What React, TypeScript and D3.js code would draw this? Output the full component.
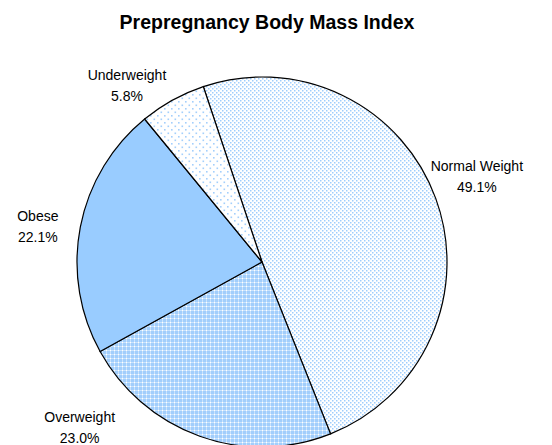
//@ts-nocheck
import * as d3 from "d3";
import React, { useEffect, useRef } from "react";

const categories = ["Normal Weight", "Overweight", "Obese", "Underweight"];
const shares = [49.1, 23.0, 22.1, 5.8];
const shareLabels = ["49.1%", "23.0%", "22.1%", "5.8%"];

// layout nudges for labels (Excel best-fit placement)
const labelNudge = {
  "Normal Weight": [13, -12],
  Overweight: [-110, -37],
  Obese: [-13, 4],
  Underweight: [-31, 11],
};

const fills = {
  "Normal Weight": "url(#dotsDense)",
  Overweight: "url(#gridDots)",
  Obese: "#99ccff",
  Underweight: "url(#dotsSparse)",
};

const chart = () => {
  const width = 552;
  const height = 445;
  const cx = 262;
  const cy = 262;
  const radius = 185;
  const start = (-18.5 * Math.PI) / 180;

  const svg = d3
    .create("svg")
    .attr("width", width)
    .attr("height", height)
    .attr("style", "display:block; font-family: Arial, 'Liberation Sans', sans-serif;");

  const defs = svg.append("defs");

  const dense = defs
    .append("pattern")
    .attr("id", "dotsDense")
    .attr("width", 4)
    .attr("height", 4)
    .attr("patternUnits", "userSpaceOnUse");
  dense.append("rect").attr("width", 4).attr("height", 4).attr("fill", "#ffffff");
  dense.append("rect").attr("x", 0).attr("y", 0).attr("width", 1.5).attr("height", 1.5).attr("fill", "#9fcdfc");
  dense.append("rect").attr("x", 2).attr("y", 2).attr("width", 1.5).attr("height", 1.5).attr("fill", "#9fcdfc");

  const sparse = defs
    .append("pattern")
    .attr("id", "dotsSparse")
    .attr("width", 7)
    .attr("height", 7)
    .attr("patternUnits", "userSpaceOnUse");
  sparse.append("rect").attr("width", 7).attr("height", 7).attr("fill", "#ffffff");
  sparse.append("rect").attr("x", 0).attr("y", 0).attr("width", 1.6).attr("height", 1.6).attr("fill", "#a4cffc");
  sparse.append("rect").attr("x", 3.5).attr("y", 3.5).attr("width", 1.6).attr("height", 1.6).attr("fill", "#a4cffc");

  const grid = defs
    .append("pattern")
    .attr("id", "gridDots")
    .attr("width", 4)
    .attr("height", 4)
    .attr("patternUnits", "userSpaceOnUse");
  grid.append("rect").attr("width", 4).attr("height", 4).attr("fill", "#a2cefc");
  grid.append("rect").attr("width", 4).attr("height", 1).attr("fill", "#cbe4fd");
  grid.append("rect").attr("width", 1).attr("height", 4).attr("fill", "#cbe4fd");
  grid.append("rect").attr("width", 1).attr("height", 1).attr("fill", "#ffffff");

  svg
    .append("text")
    .attr("x", 267)
    .attr("y", 29)
    .attr("text-anchor", "middle")
    .attr("font-weight", "bold")
    .attr("font-size", 19.5)
    .text("Prepregnancy Body Mass Index");

  const pie = d3
    .pie()
    .sort(null)
    .value((d) => d.value)
    .startAngle(start)
    .endAngle(start + 2 * Math.PI);

  const data = categories.map((c, i) => ({ name: c, value: shares[i], label: shareLabels[i] }));
  const arcs = pie(data);

  const arc = d3.arc().innerRadius(0).outerRadius(radius);
  const labelArc = d3.arc().innerRadius(radius + 30).outerRadius(radius + 30);

  const g = svg.append("g").attr("transform", `translate(${cx},${cy})`);

  g.selectAll("path")
    .data(arcs)
    .join("path")
    .attr("d", arc)
    .attr("fill", (d) => fills[d.data.name])
    .attr("stroke", "#000")
    .attr("stroke-width", 1.2);

  const lab = g
    .selectAll("text")
    .data(arcs)
    .join("text")
    .attr("text-anchor", "middle")
    .attr("font-size", 14)
    .attr("fill", "#000")
    .attr("transform", (d) => {
      const [x, y] = labelArc.centroid(d);
      const [nx, ny] = labelNudge[d.data.name];
      return `translate(${x + nx},${y + ny})`;
    });

  lab.append("tspan").attr("x", 0).attr("y", -5).text((d) => d.data.name);
  lab.append("tspan").attr("x", 0).attr("y", 16).text((d) => d.data.label);

  return svg.node();
};

export default function App() {
  const holderRef = useRef<HTMLDivElement | null>(null);

  useEffect(() => {
    const holder = holderRef.current;
    if (!holder || holder.hasChildNodes()) return;
    holder.appendChild(chart());
  }, []);

  return <div ref={holderRef} style={{ position: "absolute", left: 0, top: 0 }}></div>;
}
